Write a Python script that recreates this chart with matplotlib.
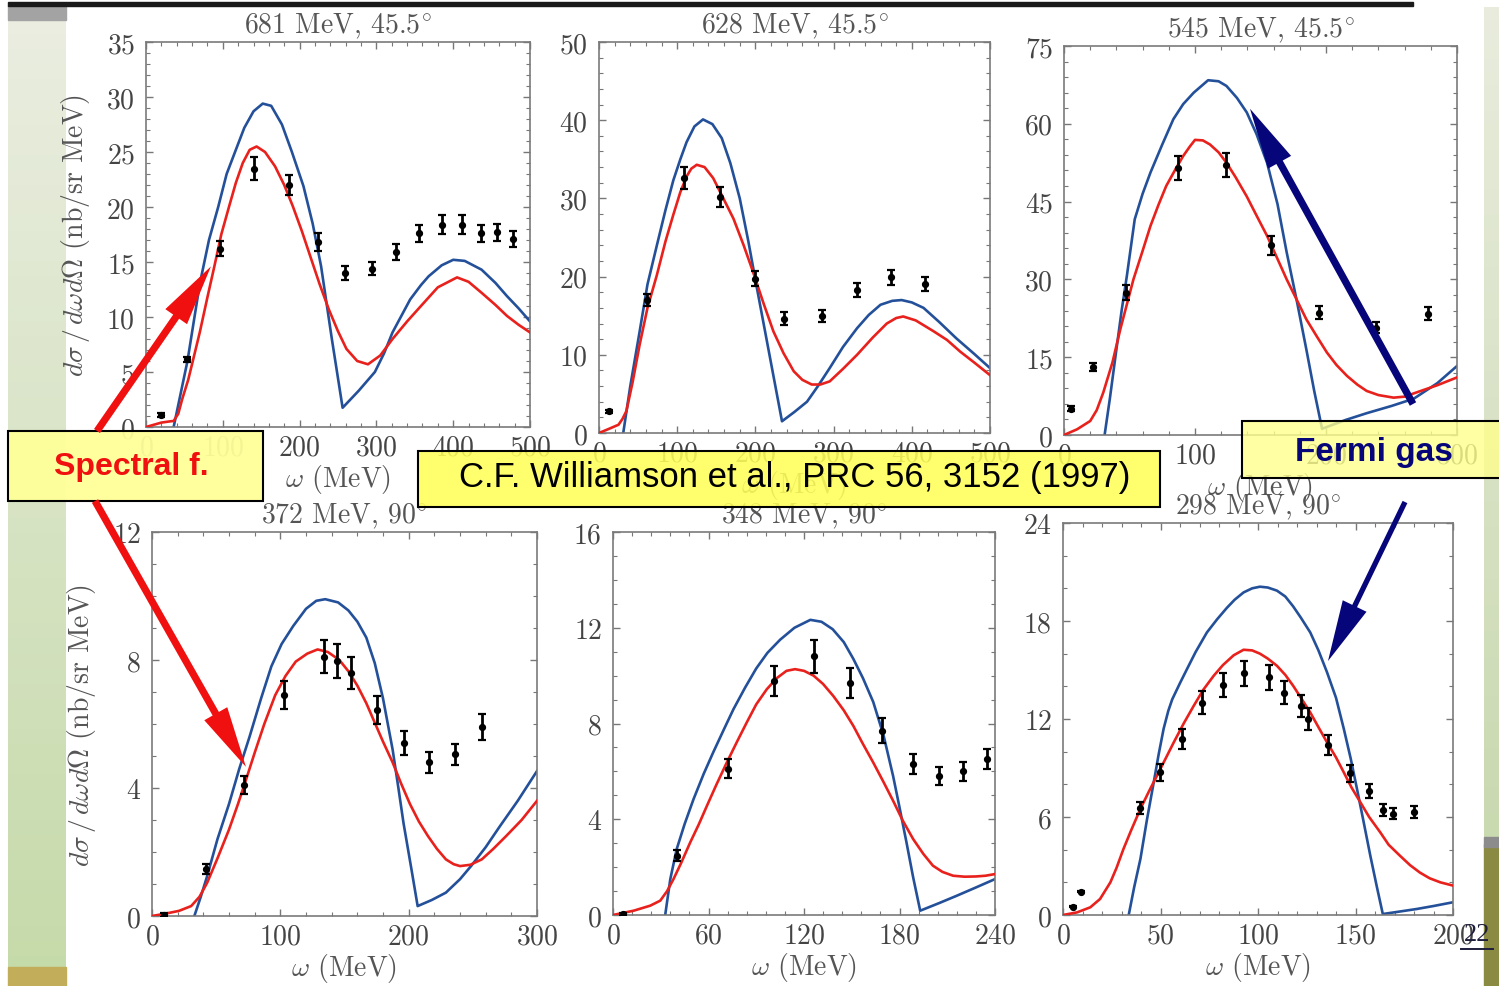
import numpy as np
import matplotlib
matplotlib.use("Agg")
import matplotlib.pyplot as plt
from matplotlib.patches import Rectangle
from matplotlib.ticker import MultipleLocator

plt.rcParams["font.family"] = ["cmr10", "DejaVu Serif"]
plt.rcParams["mathtext.fontset"] = "cm"
plt.rcParams["axes.formatter.use_mathtext"] = True

# ---- data (omega in MeV, cross section in nb/sr MeV) ----
# 681 MeV, 45.5 deg
p681_w = [20, 54, 97, 140, 186, 224, 259, 294, 326, 356, 386, 411, 436, 457, 478]
p681_xs = [1.1, 6.15, 16.2, 23.5, 22.0, 16.8, 14.0, 14.4, 15.9, 17.6, 18.4, 18.4, 17.6, 17.7, 17.1]
p681_err = [0.15, 0.2, 0.68, 1.06, 0.94, 0.83, 0.67, 0.58, 0.76, 0.79, 0.83, 0.83, 0.79, 0.77, 0.74]
p681_fg_w = [32, 36, 45, 54, 62, 70, 82, 94, 105, 117, 128, 140, 152, 163, 177, 190, 205, 217, 228,
             242, 256, 277, 298, 310, 321, 344, 358, 368, 385, 400, 415, 437, 455, 470, 485, 500]
p681_fg = [-1.5, 0, 3, 6, 9.5, 13, 17, 20, 23, 25.2, 27.2, 28.7, 29.4, 29.2, 27.5, 25, 21.9, 18.5, 14.6,
           8, 1.75, 3.3, 5.0, 6.7, 8.6, 11.6, 12.9, 13.7, 14.7, 15.2, 15.1, 14.3, 13.1, 11.9, 10.8, 9.6]
p681_sf_w = [0, 10, 20, 30, 36, 42, 47, 55, 62, 70, 80, 89, 98, 108, 117, 126, 135, 144, 155, 168, 180,
             191, 203, 214, 226, 238, 250, 261, 275, 289, 305, 321, 340, 358, 380, 405, 420, 437, 455,
             470, 485, 500]
p681_sf = [0, 0.2, 0.4, 0.5, 0.55, 1.2, 2.5, 4.3, 6.3, 8.6, 11.8, 14.6, 17.5, 20, 22.2, 24, 25.2, 25.5,
           25, 23.7, 22, 20.1, 17.8, 15.5, 13, 10.7, 8.7, 7.1, 6.0, 5.7, 6.5, 8, 9.6, 11, 12.7, 13.6, 13.2,
           12.2, 11.1, 10.1, 9.3, 8.6]

# 628 MeV, 45.5 deg
p628_w = [12.8, 62, 109, 155, 200, 236, 285, 330, 374, 417]
p628_xs = [2.8, 17.0, 32.6, 30.2, 19.7, 14.6, 15.0, 18.3, 19.9, 19.1]
p628_err = [0.2, 0.8, 1.4, 1.3, 0.96, 0.85, 0.75, 0.85, 0.96, 0.9]
p628_fg_w = [29, 31, 40, 52, 62, 74, 85, 95, 104, 112, 122, 133, 145, 157, 168, 180, 191, 202, 218,
             234, 250, 266, 280, 295, 312, 330, 345, 360, 375, 387, 400, 415, 435, 457, 480, 500]
p628_fg = [-1.5, 0, 6, 13, 19, 24, 28.5, 32.3, 35, 37.2, 39.2, 40.1, 39.5, 37.7, 34.5, 30, 24.5, 18.5,
           10, 1.5, 2.7, 4.0, 6.0, 8.3, 11, 13.4, 15.1, 16.4, 16.9, 17.0, 16.7, 16, 14.2, 12.1, 10.1, 8.3]
p628_sf_w = [0, 12, 25, 30, 35, 43, 52, 62, 74, 85, 95, 104, 112, 118, 125, 135, 146, 158, 172, 185,
             197, 210, 223, 236, 249, 260, 272, 283, 295, 312, 330, 350, 368, 380, 389, 405, 428, 445,
             462, 480, 500]
p628_sf = [0, 0.5, 1.06, 1.8, 2.8, 6.5, 11.3, 16, 20.2, 24.5, 27.9, 30.8, 32.8, 33.8, 34.3, 34, 32.6,
           30.2, 27.4, 24, 20.6, 16.7, 13, 10.2, 7.9, 6.8, 6.2, 6.2, 6.6, 8.2, 10, 12.2, 14, 14.7, 14.9,
           14.4, 13, 11.9, 10.4, 9, 7.4]

# 545 MeV, 45.5 deg
p545_w = [5, 22.4, 47, 87, 123.5, 158, 195, 238, 278]
p545_xs = [5.1, 13.1, 27.4, 51.5, 52, 36.6, 23.6, 20.7, 23.4]
p545_err = [0.4, 0.7, 1.45, 2.25, 2.3, 1.8, 1.3, 1.1, 1.2]
p545_fg_w = [29, 31, 35, 40, 44, 48, 54, 60, 66, 75, 83.5, 91, 99, 110, 118, 124, 132, 139.5, 147,
             155, 163, 170, 178, 185, 191, 197, 215, 231, 250, 267, 285, 300]
p545_fg = [-3, 0, 7, 16.5, 24, 30.7, 41.6, 46.5, 50.6, 56, 60.9, 63.8, 66, 68.4, 68.2, 67.3, 65, 62.2,
           58, 52.5, 44.5, 35.2, 25.5, 16.5, 8.5, 1.2, 2.9, 4.2, 5.6, 7.0, 10, 13.3]
p545_sf_w = [0, 10, 20, 25, 30, 37, 43, 48, 53, 60, 66, 72, 78, 85, 91, 96, 100, 106, 111.5, 118, 124,
             131, 139.5, 147, 155, 162, 170, 178, 185, 193, 200.7, 208, 216, 224, 231, 240, 251.6, 260,
             269, 285, 300]
p545_sf = [0, 1.1, 2.7, 4.8, 8.2, 14, 20.4, 25.2, 30, 35.5, 40.3, 44.3, 48, 51.2, 53.8, 55.6, 56.9,
           56.8, 56, 54.5, 52.5, 49.7, 46, 42.3, 38.4, 34.5, 30, 25.9, 22.3, 19, 15.9, 13.5, 11.4, 9.7,
           8.5, 7.7, 7.2, 7.4, 8.2, 9.6, 11.1]

# 372 MeV, 90 deg
p372_w = [9, 41.7, 72, 103, 134, 144.4, 155, 175, 196, 216, 236, 257.5]
p372_xs = [0.03, 1.46, 4.08, 6.9, 8.1, 7.97, 7.6, 6.44, 5.4, 4.8, 5.05, 5.9]
p372_err = [0.05, 0.15, 0.28, 0.44, 0.52, 0.52, 0.5, 0.43, 0.37, 0.34, 0.34, 0.4]
p372_fg_w = [31, 33, 38, 43, 51, 60, 68, 76, 85, 93, 101, 110, 120, 128, 135, 145, 153, 160, 167,
             173.6, 180, 187.5, 192, 196, 202, 207, 218, 229, 240, 248.6, 260, 271, 285, 300]
p372_fg = [-0.3, 0, 0.6, 1.25, 2.4, 3.5, 4.6, 5.6, 6.8, 7.8, 8.5, 9.06, 9.6, 9.85, 9.9, 9.8, 9.55, 9.2,
           8.7, 7.9, 6.8, 5.2, 4.0, 2.9, 1.5, 0.31, 0.5, 0.73, 1.15, 1.56, 2.15, 2.8, 3.6, 4.53]
p372_sf_w = [0, 10, 21, 30.5, 37, 43, 51, 60, 67, 73.6, 80, 87.5, 96, 104, 112, 121, 129, 137, 146,
             153, 160, 167, 173.6, 180, 187.5, 194, 201, 208, 215, 222, 229, 235, 240, 248, 257, 266,
             276, 288, 300]
p372_sf = [0, 0.07, 0.16, 0.31, 0.6, 1.04, 1.8, 2.7, 3.5, 4.3, 5.1, 6.0, 6.9, 7.5, 7.95, 8.2, 8.33,
           8.25, 8.0, 7.65, 7.2, 6.65, 6.04, 5.45, 4.8, 4.15, 3.5, 2.95, 2.5, 2.1, 1.77, 1.62, 1.56,
           1.6, 1.77, 2.1, 2.5, 3.0, 3.6]

# 348 MeV, 90 deg
p348_w = [6.3, 40, 72.5, 101, 126, 149, 169, 188.6, 205, 220, 235]
p348_xs = [0.04, 2.48, 6.12, 9.78, 10.8, 9.7, 7.7, 6.3, 5.8, 6.0, 6.5]
p348_err = [0.05, 0.23, 0.4, 0.63, 0.68, 0.63, 0.51, 0.42, 0.38, 0.4, 0.42]
p348_fg_w = [32, 32.8, 36, 40, 45, 50.6, 57, 63, 70, 75.7, 83, 90, 97, 105, 114, 124, 131, 138, 145,
             151, 157, 163.5, 170, 176, 180, 184.4, 188.5, 193, 205, 215.8, 228, 240]
p348_fg = [-0.3, 0, 1.5, 2.75, 3.8, 4.84, 5.9, 6.8, 7.8, 8.6, 9.5, 10.3, 10.95, 11.5, 12.0, 12.33,
           12.25, 11.94, 11.4, 10.7, 9.9, 8.9, 7.5, 5.8, 4.5, 3.03, 1.6, 0.18, 0.5, 0.8, 1.15, 1.5]
p348_sf_w = [0, 13, 23.4, 29.7, 34, 38, 43, 48.5, 54, 59, 65, 71.5, 78, 84, 90, 96.6, 103, 109,
             114.4, 120, 126, 132, 138.4, 145, 151, 157, 163.5, 170, 176, 182, 188.6, 195, 201, 207,
             213.7, 221, 228, 234, 240]
p348_sf = [0, 0.18, 0.39, 0.6, 1.0, 1.5, 2.2, 3.03, 3.8, 4.56, 5.45, 6.37, 7.25, 8.04, 8.8, 9.43, 9.9,
           10.2, 10.27, 10.2, 10.0, 9.65, 9.15, 8.55, 7.9, 7.15, 6.37, 5.55, 4.77, 3.95, 3.17, 2.55,
           2.06, 1.8, 1.64, 1.6, 1.61, 1.64, 1.71]

# 298 MeV, 90 deg
p298_w = [5.1, 9.2, 39.3, 49.9, 61, 71.3, 82, 93, 105.5, 113.5, 122, 125.5, 136, 147, 157, 164, 169, 180]
p298_xs = [0.51, 1.43, 6.53, 8.73, 10.78, 13.0, 14.1, 14.8, 14.55, 13.6, 12.8, 12.0, 10.4, 8.67, 7.6,
           6.45, 6.2, 6.3]
p298_err = [0.05, 0.05, 0.36, 0.5, 0.6, 0.7, 0.73, 0.78, 0.77, 0.71, 0.66, 0.66, 0.61, 0.53, 0.44,
            0.36, 0.35, 0.39]
p298_fg_w = [33, 33.7, 36.5, 39.7, 43, 46.5, 49, 51.6, 54, 56, 60, 63.6, 68, 73.8, 79, 84, 88, 92.6,
             97, 101, 105, 109.7, 114, 118, 122, 126.8, 131, 135.4, 140, 144, 147.5, 150.8, 154, 157.6,
             161, 164, 172, 181.5, 190, 200]
p298_fg = [-0.3, 0, 1.7, 3.43, 5.8, 8.1, 9.8, 11.4, 12.5, 13.2, 14.2, 15.06, 16.1, 17.3, 18.1, 18.8,
           19.3, 19.75, 20.0, 20.1, 20.05, 19.86, 19.5, 18.9, 18.2, 17.3, 16.2, 14.86, 13.3, 11.4, 9.6,
           7.7, 5.8, 3.63, 1.7, 0.06, 0.2, 0.37, 0.55, 0.78]
p298_sf_w = [0, 7.2, 14, 19, 24.3, 27.5, 31, 35, 39.7, 44, 48.2, 52.5, 56.8, 62, 67, 72, 77.3, 82,
             87.5, 92.6, 97, 101, 105, 109.7, 114, 118, 122, 126.8, 131, 135.4, 140, 144, 148, 152.5,
             157, 162.7, 167, 172.8, 178, 183, 188, 193.5, 200]
p298_sf = [0, 0.16, 0.47, 0.98, 2.0, 2.9, 4.04, 5.2, 6.5, 7.55, 8.53, 9.55, 10.57, 11.75, 12.8, 13.8,
           14.65, 15.3, 15.9, 16.24, 16.2, 16, 15.7, 15.26, 14.7, 14.04, 13.3, 12.4, 11.5, 10.57, 9.65,
           8.73, 7.8, 6.9, 6.0, 5.06, 4.3, 3.63, 3.05, 2.6, 2.25, 2.0, 1.8]

titles = ["681 MeV, 45.5", "628 MeV, 45.5", "545 MeV, 45.5",
          "372 MeV, 90", "348 MeV, 90", "298 MeV, 90"]

BLUE = "#24509a"
RED = "#e8211d"
NAVY = "#06067a"
TXT = "#444444"
W, H = 1499, 987

fig = plt.figure(figsize=(W / 100, H / 100), dpi=100)
fig.patch.set_facecolor("white")


def _px_axes(box, **kw):
    l, r, t, b = box
    return fig.add_axes([l / W, 1 - b / H, (r - l) / W, (b - t) / H], **kw)


# slide background decorations
bg = fig.add_axes([0, 0, 1, 1], zorder=-5)
bg.set_xlim(0, W)
bg.set_ylim(H, 0)
bg.axis("off")
grad = np.linspace(0, 1, 64)[:, None]
bg.imshow(grad, cmap=matplotlib.colors.LinearSegmentedColormap.from_list("g", ["#eaede0", "#c5daa9"]),
          extent=(8, 66, 987, 20), aspect="auto", zorder=0)
bg.imshow(grad, cmap=matplotlib.colors.LinearSegmentedColormap.from_list("g2", ["#e9ecdd", "#c9d9b0"]),
          extent=(1484, 1499, 840, 8), aspect="auto", zorder=0)
bg.add_patch(Rectangle((8, 6), 58, 15, color="#a3a3a3", zorder=1))
bg.add_patch(Rectangle((8, 2.5), 1405, 4.5, color="#1a1a1a", zorder=1))
bg.add_patch(Rectangle((8, 968), 58, 19, color="#c2ad5a", zorder=1))
bg.add_patch(Rectangle((1484, 845), 15, 142, color="#8a8a42", zorder=1))
bg.add_patch(Rectangle((1484, 838), 15, 10, color="#8c8c8c", zorder=1))

boxes = [(146, 530, 43, 428), (599, 990, 43, 434), (1064, 1457, 47, 436),
         (152, 537, 533, 917), (613, 995, 533, 916), (1063, 1453, 524, 916)]
xlims = [500, 500, 300, 300, 240, 200]
ylims = [35, 50, 75, 12, 16, 24]
xticks = [(100, 20), (100, 20), (100, 20), (100, 20), (60, 12), (50, 10)]
yticks = [(5, 1), (10, 2), (15, 3), (4, 1), (4, 1), (6, 2)]
panels = [
    (p681_w, p681_xs, p681_err, p681_fg_w, p681_fg, p681_sf_w, p681_sf),
    (p628_w, p628_xs, p628_err, p628_fg_w, p628_fg, p628_sf_w, p628_sf),
    (p545_w, p545_xs, p545_err, p545_fg_w, p545_fg, p545_sf_w, p545_sf),
    (p372_w, p372_xs, p372_err, p372_fg_w, p372_fg, p372_sf_w, p372_sf),
    (p348_w, p348_xs, p348_err, p348_fg_w, p348_fg, p348_sf_w, p348_sf),
    (p298_w, p298_xs, p298_err, p298_fg_w, p298_fg, p298_sf_w, p298_sf),
]

axes = []
for i, (box, pan) in enumerate(zip(boxes, panels)):
    ax = _px_axes(box)
    w, xs, err, fgw, fg, sfw, sf = pan
    ax.plot(fgw, fg, color=BLUE, lw=1.9, zorder=2, solid_joinstyle="round")
    ax.plot(sfw, sf, color=RED, lw=1.9, zorder=3, solid_joinstyle="round")
    ax.errorbar(w, xs, yerr=err, fmt="o", ms=4.2, color="black", ecolor="black",
                elinewidth=2.0, capsize=3, capthick=1.6, zorder=4)
    ax.set_xlim(0, xlims[i])
    ax.set_ylim(0, ylims[i])
    ax.xaxis.set_major_locator(MultipleLocator(xticks[i][0]))
    ax.xaxis.set_minor_locator(MultipleLocator(xticks[i][1]))
    ax.yaxis.set_major_locator(MultipleLocator(yticks[i][0]))
    ax.yaxis.set_minor_locator(MultipleLocator(yticks[i][1]))
    ax.tick_params(which="both", direction="in", top=True, right=True, colors="#777777",
                   labelcolor=TXT, labelsize=20)
    ax.tick_params(which="major", length=5, width=1.0)
    ax.tick_params(which="minor", length=3, width=0.8)
    ax.tick_params(axis="x", pad=5)
    ax.tick_params(axis="y", pad=8)
    for sp in ax.spines.values():
        sp.set_color("#7a7a7a")
        sp.set_linewidth(1.2)
    ax.set_title(titles[i] + r"$^{\circ}$", fontsize=20, color="#555555", pad=7)
    ax.set_xlabel(r"$\omega$ (MeV)", fontsize=20, color="#555555", labelpad=1)
    if i in (0, 3):
        ax.set_ylabel(r"$d\sigma\,/\,d\omega d\Omega$ (nb/sr MeV)", fontsize=20, color="#555555")
        ax.yaxis.set_label_coords(-0.14, 0.5)
    axes.append(ax)

# overlay with callout boxes and arrows
ov = fig.add_axes([0, 0, 1, 1], zorder=20)
ov.set_xlim(0, W)
ov.set_ylim(H, 0)
ov.axis("off")
ov.patch.set_alpha(0)

ov.add_patch(Rectangle((8, 432), 255, 70, facecolor=(1, 1, 0.6, 0.95), edgecolor="black", lw=1.5))
ov.text(131, 467, "Spectral f.", color="#f01010", fontsize=23, fontweight="bold",
        family="Liberation Sans", ha="center", va="center")
ov.add_patch(Rectangle((418, 452), 742, 56, facecolor=(1, 1, 0.35, 0.88), edgecolor="black", lw=1.5))
ov.text(795, 478, "C.F. Williamson et al., PRC 56, 3152 (1997)", color="black", fontsize=25,
        family="Liberation Sans", ha="center", va="center")
ov.add_patch(Rectangle((1242, 422), 270, 57, facecolor=(1, 1, 0.55, 0.8), edgecolor="black", lw=1.5))
ov.text(1374, 452, "Fermi gas", color=NAVY, fontsize=24, fontweight="bold",
        family="Liberation Sans", ha="center", va="center")

head = "simple,head_length=2.2,head_width=0.95,tail_width=%.2f"
arrows = [
    (axes[0], (84.6, 14.6), (97, 432), "#f01010", 0.26),
    (axes[3], (73.2, 4.66), (95, 502), "#f01010", 0.26),
    (axes[2], (142, 62.9), (1413, 405), NAVY, 0.26),
    (axes[5], (135.9, 15.55), (1405, 503), NAVY, 0.19),
]
for ax, tip, tail, col, tw in arrows:
    ov.annotate("", xy=tip, xycoords=ax.transData, xytext=tail, textcoords=ov.transData,
                arrowprops=dict(arrowstyle=head % tw, mutation_scale=20, color=col, lw=0,
                                shrinkA=0, shrinkB=0), annotation_clip=False)

# slide page number
ov.text(1477, 935, "22", fontsize=19, color="#1e1e3c", family="Liberation Serif",
        ha="center", va="center")
ov.plot([1461, 1493], [950, 950], color="#1e1e3c", lw=1.4)

fig.savefig("out.png", dpi=100)
